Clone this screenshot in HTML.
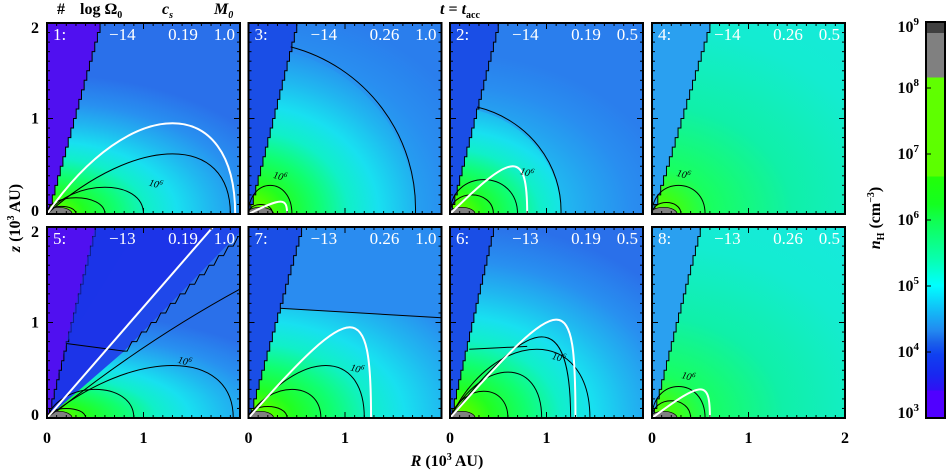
<!DOCTYPE html>
<html><head><meta charset="utf-8">
<style>
body{margin:0;background:#fff;}
svg{display:block;font-family:"Liberation Serif",serif;}
</style></head>
<body>
<svg id="fig" width="947" height="470" viewBox="0 0 947 470">
<defs>
<linearGradient id="cbg" x1="0" y1="0" x2="0" y2="1">
<stop offset="0" stop-color="#404040"/><stop offset="0.028" stop-color="#404040"/>
<stop offset="0.028" stop-color="#808080"/><stop offset="0.14" stop-color="#808080"/>
<stop offset="0.14" stop-color="#60ff00"/><stop offset="0.39" stop-color="#5cff00"/>
<stop offset="0.39" stop-color="#22ff08"/><stop offset="0.46" stop-color="#14ff20"/>
<stop offset="0.5" stop-color="#10ff50"/><stop offset="0.6" stop-color="#08ffb0"/>
<stop offset="0.665" stop-color="#00ffff"/><stop offset="0.72" stop-color="#10c4f8"/>
<stop offset="0.78" stop-color="#2288f0"/><stop offset="0.81" stop-color="#1a60ea"/>
<stop offset="0.84" stop-color="#1040f0"/><stop offset="0.89" stop-color="#1828f0"/>
<stop offset="0.93" stop-color="#3010f4"/><stop offset="0.93" stop-color="#5000ff"/><stop offset="1" stop-color="#5000ff"/>
</linearGradient>
</defs>
</svg>
<script>
// ---- data ----
var panelIds   = ["1","3","2","4","5","7","6","8"];
var logOmega   = ["−14","−14","−14","−14","−13","−13","−13","−13"];
var soundSpeed = ["0.19","0.26","0.19","0.26","0.19","0.26","0.19","0.26"];
var massM0     = ["1.0","1.0","0.5","0.5","1.0","1.0","0.5","0.5"];
// cone opening: R at z=2
var coneTopR   = [0.55,0.5,0.5,0.6,0.5,0.55,0.45,0.5];
// density scale (how far dense gas extends) and vertical squash
var denScale   = [1.0,1.0,0.9,1.6,1.1,1.2,1.1,1.5];
var denSquash  = [1.8,1.2,1.4,1.3,2.6,1.6,1.4,1.3];
var outerColor = ["#2a70ea","#2a70ea","#2a70ea","#18e8e8","#2a70ea","#2a70ea","#2a70ea","#18e8e8"];
// contours: [extent R, peak z, peak position R]
var contours = [
 [[1.9,0.63,1.3],[1.0,0.28,0.6],[0.6,0.17,0.3],[0.3,0.08,0.15]],
 [[1.73,1.75,0.2],[0.45,0.3,0.15],[0.25,0.1,0.1]],
 [[1.15,1.12,0.2],[0.7,0.36,0.35],[0.45,0.2,0.2]],
 [[0.55,0.3,0.2],[0.3,0.12,0.12]],
 [[1.93,0.55,1.3],[0.9,0.3,0.5],[0.4,0.1,0.2]],
 [[1.2,0.55,0.8],[0.75,0.3,0.45],[0.4,0.12,0.2]],
 [[1.45,0.72,0.9],[1.25,0.85,0.95],[0.95,0.48,0.6],[0.6,0.28,0.35]],
 [[0.55,0.33,0.25],[0.4,0.18,0.2]]
];
// white curve: [extent R, peak z, peak position R]
var whiteCurve = [[1.95,0.95,1.3],[0.4,0.13,0.33],[0.8,0.5,0.65],null,null,[1.27,0.95,1.05],[1.3,1.03,1.1],[0.6,0.3,0.5]];
// contour label positions [R,z]
var labelPos = [[1.05,0.3],[0.25,0.38],[0.72,0.42],[0.25,0.4],[1.35,0.58],[1.05,0.5],[1.05,0.62],[0.3,0.42]];
var xTickLabels = ["0","1","2"];
var yTickLabels = ["0","1","2"];
var cbTickLabels = ["3","4","5","6","7","8","9"];

var NS="http://www.w3.org/2000/svg", svg=document.getElementById("fig"), defs=svg.querySelector("defs");
function mk(t,a,p){var e=document.createElementNS(NS,t);for(var k in a)e.setAttribute(k,a[k]);(p||svg).appendChild(e);return e;}
var colX=[47,248.5,450,652], rowY=[23,227], PW=193, PH=191;
var stops=[[0,"#70ff00"],[0.08,"#50ff00"],[0.15,"#22ff20"],[0.28,"#10ff70"],[0.4,"#10f0c8"],[0.52,"#18e0f0"],[0.65,"#20b8f0"],[0.8,"#2890f0"],[1,null]];
var stopsTeal=[[0,"#70ff00"],[0.06,"#40ff10"],[0.15,"#18ff60"],[0.35,"#10f0a8"],[0.6,"#14ecd0"],[1,null]];

for(var i=0;i<8;i++){
  var L=colX[i%4], T=rowY[Math.floor(i/4)];
  var X=function(r){return L+r/2*PW;}, Y=function(z){return T+PH-z/2*PH;};
  var g=mk("g",{});
  
  
  var cp=mk("clipPath",{id:"cp"+i},defs); mk("rect",{x:L,y:T,width:PW,height:PH},cp);
  var rg=mk("radialGradient",{id:"rg"+i,gradientUnits:"userSpaceOnUse",cx:X(0),cy:Y(0),r:2.6*denScale[i]/2*PW,
    gradientTransform:"translate("+X(0)+","+Y(0)+") scale(1,"+(1/denSquash[i])+") translate("+(-X(0))+","+(-Y(0))+")"},defs);
  var ss=(i==3||i==7)?stopsTeal:stops;
  ss.forEach(function(s){mk("stop",{offset:s[0],"stop-color":s[1]||outerColor[i]},rg);});
  var inner=mk("g",{"clip-path":"url(#cp"+i+")"},g);
  mk("rect",{x:L,y:T,width:PW,height:PH,fill:"url(#rg"+i+")"},inner);
  if(i==4){
    mk("polygon",{points:[X(0),Y(0),X(1.72),Y(2),X(0),Y(2)].join(" "),fill:"#1c34e8"},inner);
    var jag="M"+X(0.78)+","+Y(0.7);for(var k=0;k<12;k++){var r=0.78+k*0.1;jag+=" L"+X(r+0.05)+","+Y(0.7+k*0.1)+" L"+X(r+0.1)+","+Y(0.7+(k+1)*0.1);}
    mk("path",{d:"M"+X(0)+","+Y(0)+" L"+X(1.72)+","+Y(2)+" L"+X(2)+","+Y(2)+" L"+X(2)+","+Y(1.95)+" L"+X(0.8)+","+Y(0.7)+"Z",fill:"#1f48ea"},inner);
    mk("path",{d:jag,fill:"none",stroke:"#000","stroke-width":1},inner);
    mk("path",{d:"M"+X(0.05)+","+Y(0.03)+" Q"+X(1)+","+Y(0.8)+" "+X(2)+","+Y(1.35),fill:"none",stroke:"#000","stroke-width":1},inner);
    mk("path",{d:"M"+X(0.2)+","+Y(0.78)+" L"+X(0.8)+","+Y(0.7),fill:"none",stroke:"#000","stroke-width":1},inner);
  }
  if(i==5){
    mk("polygon",{points:[X(0.3),Y(1.15),X(2),Y(1.05),X(2),Y(2),X(0),Y(2)].join(" "),fill:"#2a8cf0"},inner);
    mk("path",{d:"M"+X(0.3)+","+Y(1.15)+" L"+X(2)+","+Y(1.05),fill:"none",stroke:"#000","stroke-width":1},inner);
  }
  if(i==6){
    mk("path",{d:"M"+X(0.2)+","+Y(0.72)+" L"+X(0.8)+","+Y(0.75),fill:"none",stroke:"#000","stroke-width":1},inner);
  }
  if(i==1||i==2){
    var c=contours[i][0];
    mk("path",{d:"M"+X(0)+","+Y(c[1])+" A"+(c[0]/2*PW)+","+(c[1]/2*PH)+" 0 0 1 "+X(c[0])+","+Y(0)+" L"+X(2)+","+Y(0)+" L"+X(2)+","+Y(2)+" L"+X(0)+","+Y(2)+"Z",fill:"#2a8cf0",opacity:0.5},inner);
  }
  var ct=coneTopR[i], coneCol=(i==0||i==4)?"#5010f0":(i==3||i==7)?"#2aa0f0":"#1a4ee6";
  var st="M"+X(0)+","+Y(0);for(var k=1;k<=20;k++){st+=" L"+X(ct*k/20)+","+Y(2*(k-1)/20)+" L"+X(ct*k/20)+","+Y(2*k/20);}
  mk("path",{d:st+" L"+X(0)+","+Y(2)+"Z",fill:coneCol},inner);
  mk("path",{d:st,fill:"none",stroke:"#000","stroke-width":1},inner);
  if(i==4) mk("polygon",{points:[X(0),Y(0),X(0.5),Y(2),X(0.95),Y(2),X(0.2),Y(0.78)].join(" "),fill:"#1a36e8",opacity:0.6},inner);
  mk("ellipse",{cx:X(0.12),cy:Y(0),rx:0.14/2*PW,ry:0.07/2*PH,fill:"#808080",stroke:"#000","stroke-width":0.7},inner);
  contours[i].forEach(function(c,j){
    var d;
    if((i==1||i==2)&&j==0){d="M"+X(ct*c[1]/2)+","+Y(c[1])+" A"+(c[0]/2*PW)+","+(c[1]/2*PH)+" 0 0 1 "+X(c[0])+","+Y(0);}
    else{var a=(8*c[2]-4*c[0])/3, h=c[1]/0.75;if(a<0)a=0;
      d="M"+X(0)+","+Y(0)+" C"+X(a)+","+Y(h)+" "+X(c[0])+","+Y(h)+" "+X(c[0])+","+Y(0);}
    var p=mk("path",{d:d,fill:"none",stroke:"#000","stroke-width":1},inner);
    
    
  });
  if(whiteCurve[i]){var w=whiteCurve[i],a=(8*w[2]-4*w[0])/3,h=w[1]/0.75;if(a<0)a=0;
    var wp=mk("path",{d:"M"+X(0)+","+Y(0)+" C"+X(a)+","+Y(h)+" "+X(w[0])+","+Y(h)+" "+X(w[0])+","+Y(0),fill:"none",stroke:"#fff","stroke-width":2},inner);
    
    }
  if(i==4){var wl=mk("line",{x1:X(0),y1:Y(0),x2:X(1.72),y2:Y(2),stroke:"#fff","stroke-width":2},inner);
    
    }
  var lp=labelPos[i];
  var lt=mk("text",{x:X(lp[0]),y:Y(lp[1]),"font-size":10,"font-style":"italic",transform:"rotate(15 "+X(lp[0])+" "+Y(lp[1])+")"},inner);
  lt.textContent="10";var su=mk("tspan",{"font-size":7,dy:-4},lt);su.textContent="6";
  var tk=mk("g",{stroke:"#000","stroke-width":1},g);
  for(var k=0;k<=20;k++){var len=(k%10==0)?6:3,xx=X(k/10),yy=Y(k/10);
    mk("line",{x1:xx,y1:T+PH,x2:xx,y2:T+PH-len},tk);mk("line",{x1:xx,y1:T,x2:xx,y2:T+len},tk);
    mk("line",{x1:L,y1:yy,x2:L+len,y2:yy},tk);mk("line",{x1:L+PW,y1:yy,x2:L+PW-len,y2:yy},tk);}
  mk("rect",{x:L,y:T,width:PW,height:PH,fill:"none",stroke:"#000","stroke-width":2},g);
  var tx=[[L+6,"start",panelIds[i]+":"],[L+62,"start",logOmega[i]],[L+136,"middle",soundSpeed[i]],[L+PW-5,"end",massM0[i]]];
  tx.forEach(function(t,j){var e=mk("text",{x:t[0],y:T+17,"text-anchor":t[1],fill:"#fff","font-size":17},g);e.textContent=t[2];
    
    });
  if(i%4==0){yTickLabels.forEach(function(s,k){var e=mk("text",{x:L-8,y:Y(k)+(k==2?10:k==0?2:5),"text-anchor":"end","font-size":16,"font-weight":"bold"});e.textContent=s;
    
    });}
  if(i>=4){xTickLabels.forEach(function(s,k){if(k==2&&i!=7)return;var e=mk("text",{x:X(k),y:443,"text-anchor":"middle","font-size":16,"font-weight":"bold"});e.textContent=s;
    
    });}
}
var cbL=926,cbT=22,cbH=396,cbW=19;
var cb=mk("rect",{x:cbL,y:cbT,width:cbW,height:cbH,fill:"url(#cbg)",stroke:"#000","stroke-width":2});


cbTickLabels.forEach(function(s,k){var yy=cbT+cbH-k*cbH/6;
  mk("line",{x1:cbL,y1:yy,x2:cbL+5,y2:yy,stroke:"#000","stroke-width":1});
  var e=mk("text",{x:919,y:yy+(k==0?0:k==6?10:5),"text-anchor":"end","font-size":16,"font-weight":"bold"});e.textContent="10";
  var t=mk("tspan",{"font-size":11,dy:-7},e);t.textContent=s;
  
  });
</script>
<svg width="947" height="470" style="position:absolute;left:0;top:0;font-family:'Liberation Serif',serif;font-weight:bold">
<text x="57" y="14" font-size="16">#</text>
<text x="80" y="14" font-size="16">log Ω<tspan font-size="10" dy="4">0</tspan></text>
<text x="162" y="14" font-size="16" font-style="italic">c<tspan font-size="10" dy="4">s</tspan></text>
<text x="214" y="14" font-size="16" font-style="italic">M<tspan font-size="10" dy="4">0</tspan></text>
<text x="440" y="14" font-size="16"><tspan font-style="italic">t</tspan> = <tspan font-style="italic">t</tspan><tspan font-size="10" dy="4">acc</tspan></text>
<text x="447" y="466" font-size="16" text-anchor="middle"><tspan font-style="italic">R</tspan> (10<tspan font-size="10" dy="-6">3</tspan><tspan dy="6"> AU)</tspan></text>
<text transform="translate(20,218) rotate(-90)" font-size="16" text-anchor="middle"><tspan font-style="italic">z</tspan> (10<tspan font-size="10" dy="-6">3</tspan><tspan dy="6"> AU)</tspan></text>
<text transform="translate(880,218) rotate(-90)" font-size="16" text-anchor="middle"><tspan font-style="italic">n</tspan><tspan font-size="10" dy="4">H</tspan><tspan dy="-4"> (cm</tspan><tspan font-size="10" dy="-6">−3</tspan><tspan dy="6">)</tspan></text>
</svg>
</body></html>
